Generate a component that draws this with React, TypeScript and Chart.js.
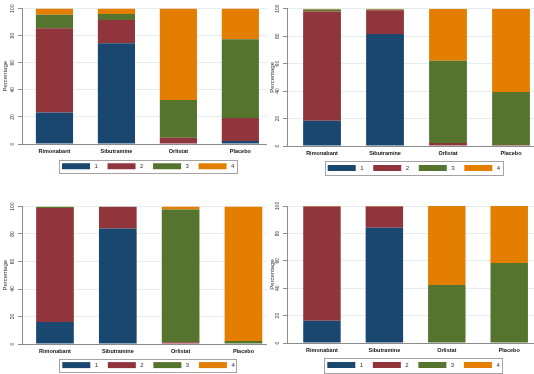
import React, { useEffect, useRef } from "react";
import { Chart, registerables } from "chart.js";

Chart.register(...registerables);

const categories = ["Rimonabant", "Sibutramine", "Orlistat", "Placebo"];
const seriesLabels = ["1", "2", "3", "4"];
const yTickValues = [0, 20, 40, 60, 80, 100];
const seriesColors = ["#1a476f", "#90353b", "#55752f", "#e37e00"];

// Top-left panel
const topLeft1 = [23.2, 74.4, 0, 2.2];
const topLeft2 = [62.3, 17.2, 4.7, 17.0];
const topLeft3 = [9.8, 4.4, 27.8, 58.1];
const topLeft4 = [4.7, 4.0, 67.5, 22.7];

// Top-right panel
const topRight1 = [18.4, 81.6, 0, 0];
const topRight2 = [79.6, 17.2, 2.2, 0.8];
const topRight3 = [1.5, 0.7, 59.8, 38.5];
const topRight4 = [0.5, 0.5, 38.0, 60.7];

// Bottom-left panel
const bottomLeft1 = [16.0, 84.0, 0, 0];
const bottomLeft2 = [83.0, 15.8, 1.2, 0];
const bottomLeft3 = [0.8, 0.2, 96.6, 2.2];
const bottomLeft4 = [0.2, 0, 2.2, 97.8];

// Bottom-right panel
const bottomRight1 = [16.3, 84.2, 0, 0];
const bottomRight2 = [83.4, 15.5, 0.3, 0];
const bottomRight3 = [0, 0, 42.0, 58.4];
const bottomRight4 = [0.3, 0.3, 57.7, 41.6];

type Panel = {
  left: number;
  top: number;
  plotTop: number;
  plotBottom: number;
  axisX: number;
  xMin: number;
  xMax: number;
  barPct: number;
  legendLeft: number;
  legendRight: number;
  legendTop: number;
  legendBottom: number;
  series: number[][];
};

const W = 267;
const H = 187;
const FONT = '"Liberation Sans", Arial, Helvetica, sans-serif';

const panels: Panel[] = [
  {
    left: 0, top: 0, plotTop: 8.5, plotBottom: 144, axisX: 22,
    xMin: -0.524, xMax: 3.43, barPct: 0.6,
    legendLeft: 59, legendRight: 237, legendTop: 160, legendBottom: 172.5,
    series: [topLeft1, topLeft2, topLeft3, topLeft4],
  },
  {
    left: 267, top: 0, plotTop: 8.7, plotBottom: 146, axisX: 20,
    xMin: -0.556, xMax: 3.365, barPct: 0.6,
    legendLeft: 57.7, legendRight: 235.7, legendTop: 161, legendBottom: 175,
    series: [topRight1, topRight2, topRight3, topRight4],
  },
  {
    left: 0, top: 187, plotTop: 19.5, plotBottom: 157, axisX: 22,
    xMin: -0.525, xMax: 3.375, barPct: 0.6,
    legendLeft: 59.3, legendRight: 236.7, legendTop: 171.7, legendBottom: 184.5,
    series: [bottomLeft1, bottomLeft2, bottomLeft3, bottomLeft4],
  },
  {
    left: 267, top: 187, plotTop: 19, plotBottom: 156, axisX: 20,
    xMin: -0.56, xMax: 3.397, barPct: 0.6,
    legendLeft: 57.3, legendRight: 235.7, legendTop: 170.7, legendBottom: 185.3,
    series: [bottomRight1, bottomRight2, bottomRight3, bottomRight4],
  },
];

function makeLegendPlugin(p: Panel) {
  return {
    id: "boxLegend",
    afterDraw(chart: any) {
      const ctx = chart.ctx as CanvasRenderingContext2D;
      ctx.save();
      ctx.strokeStyle = "#a3a3a3";
      ctx.lineWidth = 1;
      ctx.strokeRect(
        Math.round(p.legendLeft) + 0.5,
        Math.round(p.legendTop) + 0.5,
        Math.round(p.legendRight - p.legendLeft),
        Math.round(p.legendBottom - p.legendTop)
      );
      const cy = (p.legendTop + p.legendBottom) / 2;
      let x = p.legendLeft + 3;
      ctx.font = `6px ${FONT}`;
      ctx.textBaseline = "middle";
      ctx.textAlign = "left";
      chart.data.datasets.forEach((ds: any) => {
        ctx.fillStyle = ds.backgroundColor;
        ctx.fillRect(x, cy - 3, 28, 6);
        x += 28 + 4.5;
        ctx.fillStyle = "#333";
        ctx.fillText(ds.label, x, cy + 0.5);
        x += ctx.measureText(ds.label).width + 9.7;
      });
      ctx.restore();
    },
  };
}

function PanelChart({ p }: { p: Panel }) {
  const ref = useRef<HTMLCanvasElement | null>(null);
  useEffect(() => {
    if (!ref.current) return;
    const xAxisH = 14;
    const chart = new Chart(ref.current, {
      type: "bar",
      data: {
        datasets: p.series.map((vals, si) => ({
          label: seriesLabels[si],
          data: vals.map((v, i) => ({ x: i, y: v })),
          backgroundColor: seriesColors[si],
          borderWidth: 0,
          barPercentage: p.barPct,
          categoryPercentage: 1,
        })),
      },
      options: {
        animation: false,
        responsive: false,
        maintainAspectRatio: false,
        layout: {
          padding: {
            left: 0,
            right: 0,
            top: p.plotTop,
            bottom: H - p.plotBottom - xAxisH,
          },
        },
        plugins: {
          legend: { display: false },
          tooltip: { enabled: false },
          title: { display: false },
        },
        scales: {
          x: {
            type: "linear",
            stacked: true,
            offset: false,
            min: p.xMin,
            max: p.xMax,
            afterBuildTicks: (scale: any) => {
              scale.ticks = categories.map((_, i) => ({ value: i }));
            },
            afterFit: (scale: any) => {
              scale.height = xAxisH;
            },
            grid: { display: false, drawTicks: false, offset: false },
            border: { display: true, color: "#8c8c8c", width: 1 },
            ticks: {
              autoSkip: false,
              maxRotation: 0,
              minRotation: 0,
              padding: 4,
              color: "#111",
              font: { family: FONT, size: 5.5, weight: "bold" },
              callback: (v: any) => categories[Math.round(Number(v))] ?? "",
            },
          },
          y: {
            type: "linear",
            stacked: true,
            min: 0,
            max: 100,
            afterBuildTicks: (scale: any) => {
              scale.ticks = yTickValues.map((v) => ({ value: v }));
            },
            afterFit: (scale: any) => {
              scale.width = p.axisX;
            },
            grid: {
              color: "#e6edf0",
              lineWidth: 1,
              drawTicks: true,
              tickLength: 4,
              tickColor: "#8c8c8c",
            },
            border: { display: true, color: "#8c8c8c", width: 1 },
            ticks: {
              autoSkip: false,
              minRotation: 90,
              maxRotation: 90,
              crossAlign: "center",
              padding: 1,
              color: "#333",
              font: { family: FONT, size: 5 },
            },
            title: {
              display: true,
              text: "Percentage",
              color: "#333",
              font: { family: FONT, size: 6 },
              padding: { top: 1.4, bottom: 0 },
            },
          },
        },
      } as any,
      plugins: [makeLegendPlugin(p)],
    });
    return () => chart.destroy();
  }, [p]);
  return (
    <canvas
      ref={ref}
      width={W}
      height={H}
      style={{ position: "absolute", left: p.left, top: p.top, width: W, height: H }}
    />
  );
}

export default function App() {
  return (
    <div
      style={{
        position: "absolute",
        left: 0,
        top: 0,
        width: 534,
        height: 374,
        background: "#ffffff",
        overflow: "hidden",
      }}
    >
      {panels.map((p, i) => (
        <PanelChart key={i} p={p} />
      ))}
    </div>
  );
}
